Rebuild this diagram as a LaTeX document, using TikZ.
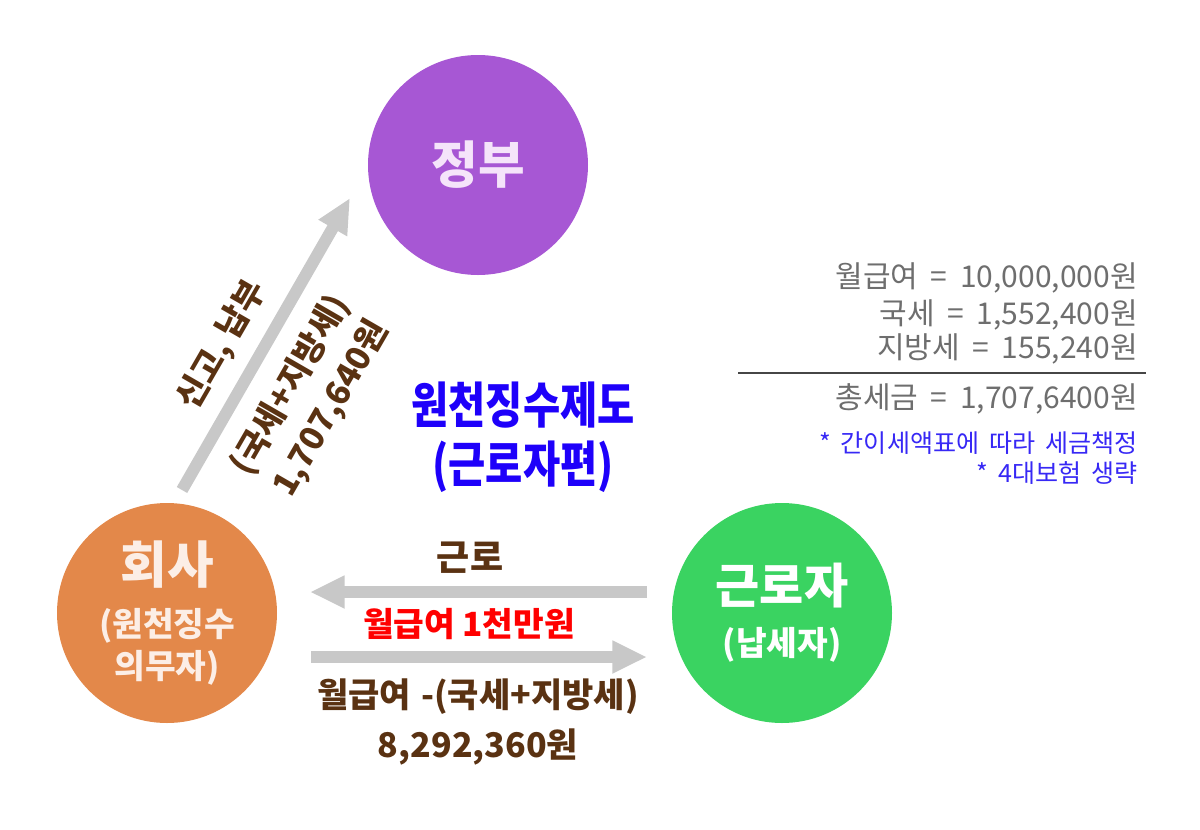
\documentclass[tikz,border=0pt]{standalone}
\usepackage{fontspec}
\setmainfont{Noto Sans CJK KR}
\newfontfamily\narrowfont[FakeStretch=0.82]{Noto Sans CJK KR}
\usetikzlibrary{arrows.meta}
\definecolor{govpurple}{RGB}{167,87,212}
\definecolor{corporange}{RGB}{227,136,74}
\definecolor{workgreen}{RGB}{58,211,97}
\definecolor{arrowgray}{RGB}{200,200,200}
\definecolor{flowbrown}{RGB}{90,50,18}
\definecolor{titleblue}{RGB}{30,0,250}
\definecolor{notegray}{RGB}{110,110,110}
\definecolor{noteblue}{RGB}{55,40,245}
\definecolor{ruledark}{RGB}{70,70,70}

\begin{document}
\begin{tikzpicture}[x=0.75pt,y=0.75pt,yscale=-1,xscale=1,
  party/.style={circle,minimum size=165pt,inner sep=0pt,align=center},
  flow/.style={draw=arrowgray,line width=9pt,-{Triangle[width=23pt,length=26pt]}},
  flowtext/.style={text=flowbrown,font=\fontsize{25}{35}\selectfont\bfseries,align=center,inner sep=0pt},
  sumline/.style={anchor=east,text=notegray,font={\fontsize{22.5}{27}\selectfont\spaceskip=0.42em\relax},inner sep=0pt},
  noteline/.style={anchor=east,text=noteblue,font={\fontsize{18.8}{22}\selectfont\spaceskip=0.4em\relax},inner sep=0pt}]
\useasboundingbox (0,0) rectangle (1200,829);

%Circles
\node[party,fill=govpurple,text={rgb,255:red,245;green,228;blue,250},font=\fontsize{38}{44}\selectfont\bfseries] (gov) at (478,165) {정부};
\node[party,fill=corporange,text={rgb,255:red,252;green,238;blue,230},font=\fontsize{25}{31}\selectfont\bfseries] (corp) at (167,613) {{\fontsize{38}{38}\selectfont 회사}\\[9pt](원천징수\\의무자)};
\node[party,fill=workgreen,text=white,font=\fontsize{25}{31}\selectfont\bfseries] (worker) at (782,613) {{\fontsize{36}{36}\selectfont 근로자}\\[8pt](납세자)};

%Arrow ends
\coordinate (payS) at (182,490);
\coordinate (payE) at (350,198);
\coordinate (laborS) at (647,592);
\coordinate (laborE) at (310,592);
\coordinate (wageS) at (311,657);
\coordinate (wageE) at (647,657);

%Straight Lines
\draw[flow] (payS) -- (payE);
\draw[flow] (laborS) -- (laborE);
\draw[flow] (wageS) -- (wageE);

% Text Node
\node[flowtext,rotate=60] (report) at (222,345) {신고, 납부};
\node[flowtext,rotate=60] (taxsum) at (311,397) {(국세+지방세)\\1,707,640원};
\node[flowtext,font=\fontsize{27}{35}\selectfont\bfseries] (labor) at (470,558) {근로};
\node[flowtext,text=red] (gross) at (469,624) {월급여 1천만원};
\node[flowtext,font={\fontsize{25.5}{38}\selectfont\bfseries\spaceskip=0.3em\relax}] (net) at (478,722) {월급여 -(국세+지방세)\\8,292,360원};

% Title
\node[text=titleblue,font=\narrowfont\fontsize{37}{44}\selectfont\bfseries,align=center,inner sep=0pt] (title) at (523,437) {원천징수제도\\(근로자편)};

% Summary
\node[sumline] (salary) at (1138,278) {월급여 = 10,000,000원};
\node[sumline] (natl) at (1138,315) {국세 = 1,552,400원};
\node[sumline] (local) at (1138,349) {지방세 = 155,240원};
\coordinate (ruleL) at (738,373);
\coordinate (ruleR) at (1146,373);
\draw[ruledark,line width=1.5pt] (ruleL) -- (ruleR);
\node[sumline] (total) at (1138,399) {총세금 = 1,707,6400원};
\node[noteline] (note1) at (1138,443) {* 간이세액표에 따라 세금책정};
\node[noteline] (note2) at (1138,473) {* 4대보험 생략};

\end{tikzpicture}
\end{document}
